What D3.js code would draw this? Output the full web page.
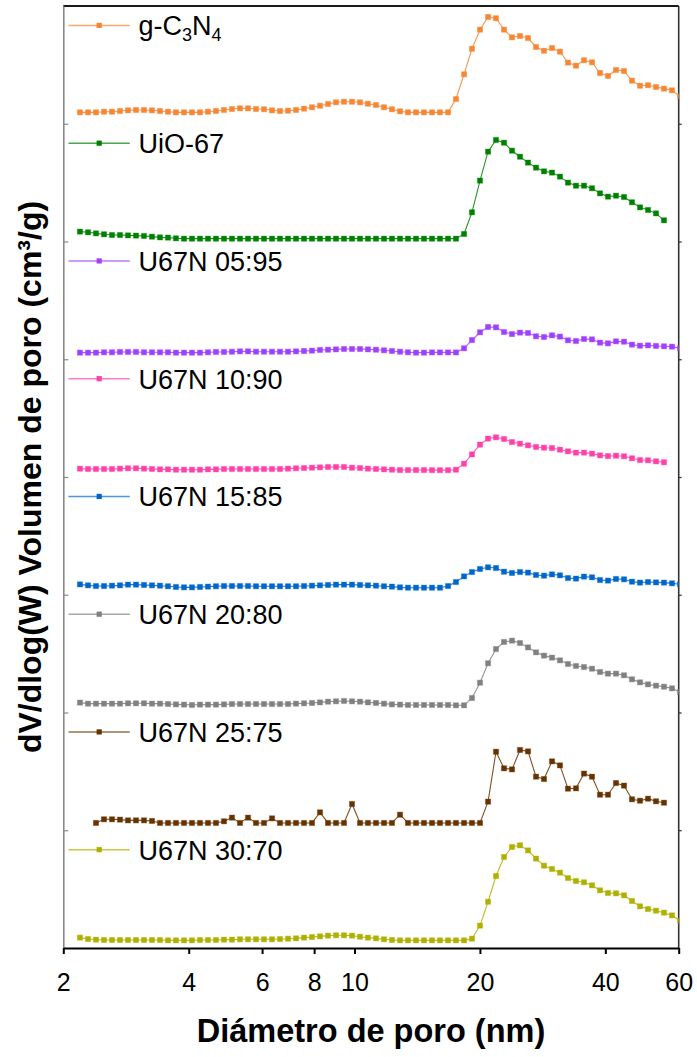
<!DOCTYPE html>
<html>
<head>
<meta charset="utf-8">
<script src="https://cdn.jsdelivr.net/npm/d3@7"></script>
<style>
  html, body { margin: 0; padding: 0; background: #fff; }
  svg { display: block; font-family: "Liberation Sans", Arial, sans-serif; }
</style>
</head>
<body>
<svg id="chart" width="697" height="1057"></svg>
<script>
// Pore diameter (nm)
const diameter = [
  2.193,2.293,2.396,2.505,2.618,2.736,2.860,2.989,3.124,3.265,
  3.413,3.567,3.728,3.897,4.073,4.257,4.449,4.650,4.861,5.080,
  5.311,5.551,5.802,6.064,6.339,6.625,6.925,7.238,7.565,7.907,
  8.264,8.638,9.028,9.436,9.863,10.31,10.77,11.26,11.77,12.30,
  12.86,13.44,14.05,14.68,15.35,16.04,16.77,17.52,18.32,19.14,
  20.01,20.92,21.86,22.85,23.88,24.96,26.09,27.27,28.50,29.79,
  31.13,32.54,34.01,35.55,37.16,38.84,40.59,42.43,44.35,46.35,
  48.45,50.64,52.93,55.32,57.82,60.43
];

const seriesNames = ["g-C3N4","UiO-67","U67N 05:95","U67N 10:90","U67N 15:85","U67N 20:80","U67N 25:75","U67N 30:70"];
const seriesOffsets = [7,6,5,4,3,2,1,0];
const seriesColors = ["#F58634","#008000","#A040FF","#FF40A8","#0066CC","#808080","#663300","#B0B000"];

const gC3N4 = [
  0.097,0.097,0.097,0.102,0.102,0.108,0.114,0.117,0.117,0.114,
  0.108,0.102,0.097,0.097,0.097,0.097,0.102,0.108,0.117,0.125,
  0.131,0.131,0.125,0.123,0.114,0.108,0.111,0.117,0.128,0.140,
  0.153,0.168,0.182,0.187,0.187,0.182,0.170,0.159,0.140,0.123,
  0.106,0.097,0.097,0.097,0.097,0.097,0.097,0.210,0.420,0.637,
  0.799,0.907,0.896,0.799,0.734,0.745,0.728,0.652,0.620,0.643,
  0.612,0.519,0.493,0.539,0.522,0.431,0.406,0.457,0.448,0.366,
  0.323,0.327,0.312,0.298,0.284,0.233
];
const uio67 = [
  0.084,0.078,0.069,0.061,0.055,0.055,0.052,0.050,0.047,0.041,
  0.035,0.033,0.027,0.024,0.024,0.024,0.024,0.024,0.024,0.024,
  0.024,0.024,0.024,0.024,0.024,0.024,0.024,0.024,0.024,0.024,
  0.024,0.024,0.024,0.024,0.024,0.024,0.024,0.024,0.024,0.024,
  0.024,0.024,0.024,0.024,0.024,0.024,0.024,0.024,0.064,0.248,
  0.517,0.763,0.862,0.839,0.771,0.720,0.670,0.627,0.596,0.585,
  0.551,0.500,0.474,0.474,0.452,0.409,0.381,0.389,0.378,0.333,
  0.290,0.268,0.239,0.180,null,null
];
const u67n0595 = [
  0.056,0.056,0.056,0.059,0.059,0.062,0.062,0.062,0.059,0.059,
  0.059,0.059,0.056,0.056,0.056,0.056,0.059,0.062,0.062,0.064,
  0.067,0.067,0.064,0.064,0.064,0.064,0.064,0.067,0.070,0.073,
  0.079,0.081,0.084,0.087,0.087,0.087,0.084,0.081,0.076,0.070,
  0.064,0.059,0.056,0.056,0.058,0.058,0.058,0.058,0.093,0.163,
  0.229,0.274,0.271,0.231,0.214,0.226,0.223,0.195,0.189,0.203,
  0.192,0.161,0.155,0.172,0.169,0.141,0.135,0.152,0.149,0.124,
  0.115,0.118,0.113,0.110,0.107,0.093
];
const u67n1090 = [
  0.071,0.068,0.068,0.068,0.068,0.071,0.074,0.074,0.071,0.068,
  0.065,0.065,0.062,0.062,0.062,0.062,0.065,0.065,0.068,0.068,
  0.068,0.068,0.068,0.068,0.068,0.068,0.071,0.074,0.076,0.079,
  0.082,0.085,0.085,0.085,0.079,0.076,0.071,0.068,0.065,0.062,
  0.059,0.059,0.059,0.059,0.058,0.058,0.058,0.062,0.113,0.192,
  0.275,0.326,0.337,0.323,0.297,0.283,0.269,0.255,0.249,0.246,
  0.232,0.218,0.207,0.207,0.198,0.184,0.178,0.181,0.176,0.159,
  0.144,0.142,0.133,0.125,null,null
];
const u67n1585 = [
  0.088,0.080,0.074,0.074,0.077,0.080,0.086,0.086,0.083,0.080,
  0.077,0.072,0.066,0.063,0.063,0.066,0.069,0.072,0.074,0.074,
  0.074,0.074,0.072,0.072,0.072,0.072,0.072,0.072,0.074,0.077,
  0.080,0.083,0.086,0.086,0.086,0.083,0.080,0.077,0.072,0.069,
  0.063,0.060,0.060,0.060,0.060,0.060,0.074,0.108,0.156,0.193,
  0.219,0.233,0.227,0.196,0.185,0.193,0.188,0.168,0.162,0.173,
  0.165,0.142,0.137,0.154,0.148,0.125,0.120,0.134,0.131,0.111,
  0.103,0.108,0.105,0.103,0.097,0.088
];
const u67n2080 = [
  0.084,0.075,0.075,0.075,0.075,0.075,0.078,0.078,0.078,0.075,
  0.075,0.072,0.069,0.067,0.064,0.067,0.067,0.067,0.069,0.072,
  0.072,0.072,0.072,0.072,0.072,0.072,0.072,0.075,0.078,0.081,
  0.086,0.092,0.095,0.098,0.095,0.092,0.086,0.081,0.075,0.069,
  0.067,0.064,0.064,0.064,0.064,0.064,0.064,0.061,0.061,0.123,
  0.253,0.418,0.539,0.599,0.610,0.590,0.553,0.511,0.483,0.466,
  0.443,0.412,0.395,0.386,0.372,0.344,0.330,0.330,0.316,0.282,
  0.256,0.239,0.228,0.219,0.205,0.174
];
const u67n2575 = [
  null,null,0.062,0.093,0.093,0.090,0.084,0.084,0.084,0.079,
  0.062,0.062,0.062,0.062,0.062,0.062,0.062,0.062,0.076,0.107,
  0.062,0.107,0.062,0.062,0.101,0.062,0.062,0.062,0.062,0.062,
  0.152,0.062,0.062,0.062,0.223,0.062,0.062,0.062,0.062,0.062,
  0.132,0.062,0.062,0.062,0.062,0.062,0.062,0.062,0.062,0.062,
  0.062,0.243,0.667,0.526,0.517,0.682,0.670,0.455,0.435,0.585,
  0.551,0.353,0.356,0.481,0.455,0.302,0.302,0.401,0.379,0.263,
  0.251,0.268,0.246,0.234,null,null
];
const u67n3070 = [
  0.088,0.076,0.071,0.068,0.068,0.068,0.068,0.068,0.068,0.068,
  0.068,0.065,0.065,0.065,0.065,0.068,0.068,0.068,0.071,0.071,
  0.074,0.074,0.074,0.074,0.074,0.076,0.079,0.082,0.088,0.093,
  0.099,0.105,0.108,0.108,0.105,0.096,0.088,0.082,0.074,0.068,
  0.065,0.065,0.065,0.065,0.065,0.065,0.065,0.065,0.065,0.079,
  0.190,0.393,0.611,0.773,0.858,0.872,0.829,0.759,0.699,0.671,
  0.640,0.594,0.569,0.558,0.532,0.490,0.467,0.464,0.447,0.399,
  0.354,0.331,0.317,0.300,0.277,0.232
];

const seriesValues = [gC3N4, uio67, u67n0595, u67n1090, u67n1585, u67n2080, u67n2575, u67n3070];

const xTicks = [2,4,6,8,10,20,40,60];
const yTicks = [1,2,3,4,5,6,7];

const svg = d3.select("#chart");
const L = 63.3, R = 678.7, T = 6, B = 948;
const x = d3.scaleLog().domain([2,60]).range([L,R]);
const y = d3.scaleLinear().domain([0,8]).range([B,T]);

svg.append("defs").append("clipPath").attr("id","clip")
  .append("rect").attr("x",L).attr("y",T).attr("width",R-L).attr("height",B-T);

// frame: top and right
svg.append("line").attr("x1",L).attr("x2",R).attr("y1",T).attr("y2",T)
  .attr("stroke","#1a1a1a").attr("stroke-width",2);
svg.append("line").attr("x1",R).attr("x2",R).attr("y1",T).attr("y2",B)
  .attr("stroke","#333").attr("stroke-width",1.6);

// left axis (grey, inward ticks)
const gL = svg.append("g").attr("transform",`translate(${L},0)`)
  .call(d3.axisLeft(y).tickValues(yTicks).tickSize(-5).tickSizeOuter(0).tickFormat(""));
gL.select(".domain").attr("stroke","#888").attr("stroke-width",1.6);
gL.selectAll(".tick line").attr("stroke","#888").attr("stroke-width",1.2);

// right axis ticks
const gR = svg.append("g").attr("transform",`translate(${R},0)`)
  .call(d3.axisRight(y).tickValues(yTicks).tickSize(3).tickSizeOuter(0).tickFormat(""));
gR.select(".domain").remove();
gR.selectAll(".tick line").attr("stroke","#333").attr("stroke-width",1.2);

// series
const plot = svg.append("g").attr("clip-path","url(#clip)");
seriesValues.forEach((vals, s) => {
  const pts = diameter.map((d,i) => ({d, v: vals[i]})).filter(p => p.v !== null);
  const off = seriesOffsets[s];
  const col = seriesColors[s];
  const line = d3.line().x(p => x(p.d)).y(p => y(p.v + off));
  plot.append("path").datum(pts).attr("d", line)
    .attr("fill","none").attr("stroke",col).attr("stroke-width",1.1).attr("stroke-opacity",0.85);
  plot.selectAll(null).data(pts).enter().append("rect")
    .attr("x", p => x(p.d) - 2.6).attr("y", p => y(p.v + off) - 2.6)
    .attr("width",5.2).attr("height",5.2)
    .attr("fill",col).attr("stroke",col).attr("stroke-opacity",0.35).attr("stroke-width",1);
});

// legend entries
seriesNames.forEach((name, s) => {
  const off = seriesOffsets[s];
  const col = seriesColors[s];
  const ly = y(off + 0.835);
  svg.append("line").attr("x1",68.5).attr("x2",129.8).attr("y1",ly).attr("y2",ly)
    .attr("stroke",col).attr("stroke-width",1.5).attr("stroke-opacity",0.7);
  svg.append("rect").attr("x",99.2-2.6).attr("y",ly-2.6).attr("width",5.2).attr("height",5.2).attr("fill",col);
  const t = svg.append("text").attr("x",138.5).attr("y",ly+10).attr("font-size",27).attr("fill","#000");
  if (name === "g-C3N4") {
    t.append("tspan").text("g-C");
    t.append("tspan").text("3").attr("font-size",18).attr("dy",6);
    t.append("tspan").text("N").attr("dy",-6);
    t.append("tspan").text("4").attr("font-size",18).attr("dy",6);
  } else {
    t.text(name);
  }
});

// bottom axis
const gB = svg.append("g").attr("transform",`translate(0,${B})`)
  .call(d3.axisBottom(x).tickValues(xTicks).tickFormat(d3.format("d")).tickSize(6).tickSizeOuter(0).tickPadding(19));
gB.select(".domain").attr("stroke","#000").attr("stroke-width",2.2);
gB.selectAll(".tick line").attr("stroke","#000").attr("stroke-width",2);
gB.selectAll(".tick text").attr("font-size",25).attr("fill","#000")
  .attr("font-family","'Liberation Sans', Arial, sans-serif");

// axis titles
svg.append("text").attr("x",(L+R)/2).attr("y",1042).attr("text-anchor","middle")
  .attr("font-size",32.5).attr("font-weight","bold").text("Diámetro de poro (nm)");
svg.append("text").attr("transform",`translate(41,${(T+B)/2}) rotate(-90)`).attr("text-anchor","middle")
  .attr("font-size",32).attr("font-weight","bold").text("dV/dlog(W) Volumen de poro (cm³/g)");
</script>
</body>
</html>
